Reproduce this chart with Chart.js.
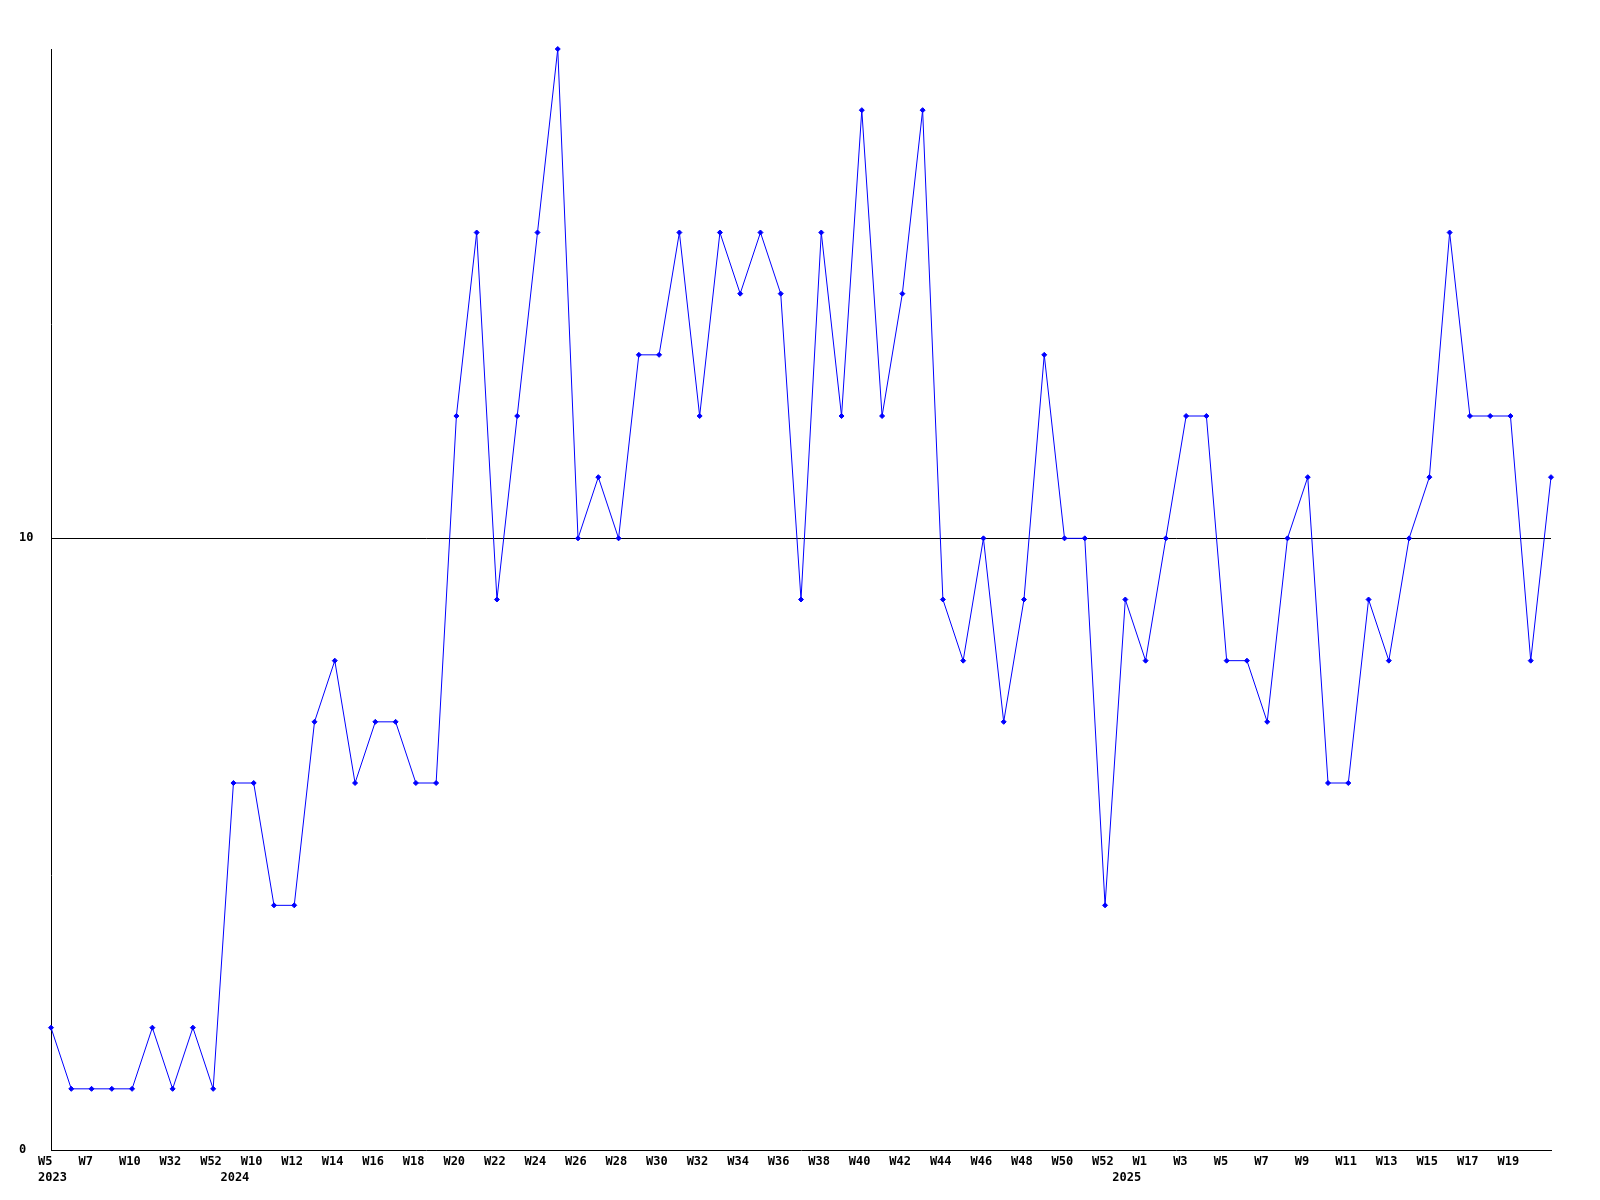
<!DOCTYPE html>
<html>
<head>
<meta charset="utf-8">
<script src="https://cdn.jsdelivr.net/npm/chart.js@4.4.1/dist/chart.umd.min.js"></script>
<style>
  html, body { margin: 0; padding: 0; background: #fff; }
  canvas { display: block; }
</style>
</head>
<body>
<canvas id="chart" width="1600" height="1200"></canvas>
<script>
// semaines (une par point), seules les paires sont affichées
const weeks = [
    'W5', 'W6', 'W7', 'W9', 'W10', 'W21', 'W32', 'W42', 'W52',
    'W9', 'W10', 'W11', 'W12', 'W13', 'W14', 'W15', 'W16', 'W17', 'W18', 'W19',
    'W20', 'W21', 'W22', 'W23', 'W24', 'W25', 'W26', 'W27', 'W28', 'W29',
    'W30', 'W31', 'W32', 'W33', 'W34', 'W35', 'W36', 'W37', 'W38', 'W39',
    'W40', 'W41', 'W42', 'W43', 'W44', 'W45', 'W46', 'W47', 'W48', 'W49',
    'W50', 'W51', 'W52',
    'W53', 'W1', 'W2', 'W3', 'W4', 'W5', 'W6', 'W7', 'W8', 'W9', 'W10',
    'W11', 'W12', 'W13', 'W14', 'W15', 'W16', 'W17', 'W18', 'W19', 'W20', 'W21'
];

// début de chaque année : [index, libellé]
const yearStarts = [[0, '2023'], [9, '2024'], [53, '2025']];

const values = [
    2, 1, 1, 1, 1, 2, 1, 2, 1,
    6, 6, 4, 4, 7, 8, 6, 7, 7, 6, 6,
    12, 15, 9, 12, 15, 18, 10, 11, 10, 13,
    13, 15, 12, 15, 14, 15, 14, 9, 15, 12,
    17, 12, 14, 17, 9, 8, 10, 7, 9, 13,
    10, 10, 4,
    9, 8, 10, 12, 12, 8, 8, 7, 10, 11, 6,
    6, 9, 8, 10, 11, 15, 12, 12, 12, 8, 11
];

const yTicks = [0, 10];

const yearAt = {};
yearStarts.forEach(([i, y]) => { yearAt[i] = y; });

const tickFont = {
    family: "'DejaVu Sans Mono', monospace",
    size: 12,
    weight: 'bold',
    lineHeight: 1.3
};

new Chart(document.getElementById('chart').getContext('2d'), {
    type: 'line',
    data: {
        labels: weeks,
        datasets: [{
            data: values,
            borderColor: '#0000ff',
            borderWidth: 1,
            backgroundColor: '#0000ff',
            pointStyle: 'rectRot',
            pointRadius: 2.5,
            pointBorderWidth: 1,
            pointBorderColor: '#0000ff',
            pointBackgroundColor: '#0000ff',
            tension: 0,
            fill: false,
            clip: false
        }]
    },
    options: {
        responsive: false,
        animation: false,
        events: [],
        layout: {
            padding: { left: 19, right: 49, top: 49, bottom: 16 }
        },
        plugins: {
            legend: { display: false },
            tooltip: { enabled: false }
        },
        scales: {
            x: {
                type: 'category',
                offset: false,
                grid: { display: true, color: 'rgba(0,0,0,0)', drawTicks: false },
                border: { display: true, color: '#000', width: 1 },
                afterFit: (scale) => { scale.height = 34; },
                ticks: {
                    autoSkip: false,
                    maxRotation: 0,
                    minRotation: 0,
                    align: 'start',
                    labelOffset: -13,
                    padding: 4,
                    color: '#000',
                    font: tickFont,
                    callback: function(value, index) {
                        // une semaine sur deux, pas de libellé au dernier point
                        const wk = index % 2 === 0 && index < weeks.length - 1 ? weeks[index] : '';
                        return [wk, yearAt[index] || ''];
                    }
                }
            },
            y: {
                min: 0,
                max: 18,
                afterBuildTicks: (scale) => {
                    scale.ticks = yTicks.map(v => ({ value: v }));
                },
                afterFit: (scale) => { scale.width = 32; },
                grid: {
                    drawTicks: false,
                    color: (ctx) => ctx.tick && ctx.tick.value === 10 ? '#000' : 'rgba(0,0,0,0)',
                    lineWidth: 1
                },
                border: { display: true, color: '#000', width: 1 },
                ticks: {
                    crossAlign: 'far',
                    padding: 18,
                    color: '#000',
                    font: tickFont
                }
            }
        }
    }
});
</script>
</body>
</html>
